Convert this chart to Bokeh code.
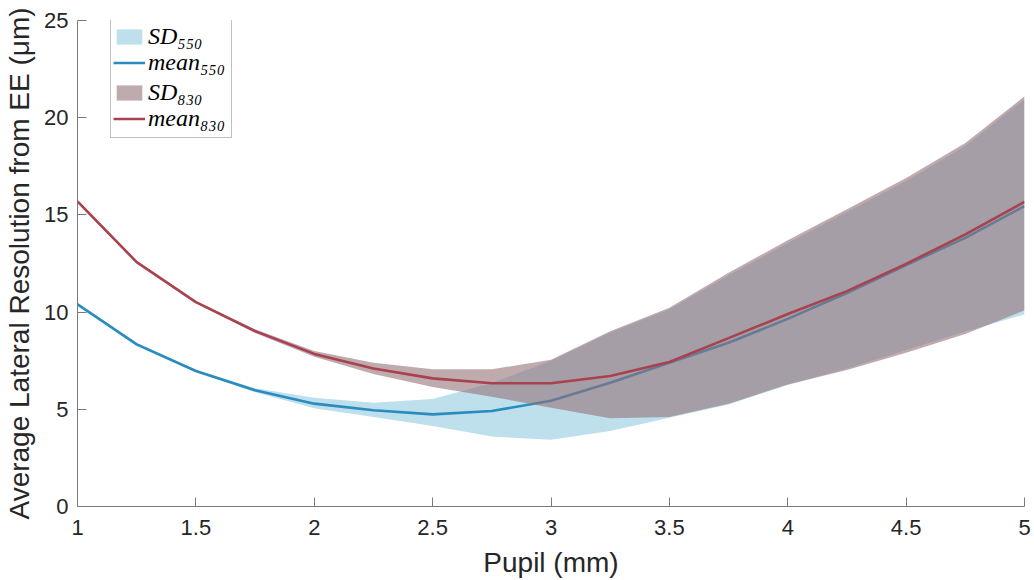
from bokeh.plotting import figure
from bokeh.models import Range1d, FixedTicker, NumeralTickFormatter, Legend, LegendItem
from bokeh.embed import file_html
from bokeh.resources import INLINE

# ---- data ----
pupil = [1.0, 1.25, 1.5, 1.75, 2.0, 2.25, 2.5, 2.75, 3.0, 3.25, 3.5, 3.75, 4.0, 4.25, 4.5, 4.75, 5.0]

mean_550 = [10.40, 8.34, 6.97, 5.98, 5.29, 4.95, 4.74, 4.91, 5.44, 6.37, 7.40, 8.42, 9.65, 10.98, 12.42, 13.82, 15.45]
sd_550_upper = [10.48, 8.42, 7.04, 6.08, 5.60, 5.34, 5.53, 6.35, 7.50, 8.95, 10.15, 11.90, 13.55, 15.15, 16.75, 18.55, 20.95]
sd_550_lower = [10.32, 8.26, 6.90, 5.88, 5.05, 4.60, 4.14, 3.60, 3.43, 3.88, 4.57, 5.25, 6.25, 7.10, 8.05, 9.00, 9.88]

mean_830 = [15.70, 12.57, 10.51, 9.02, 7.85, 7.10, 6.59, 6.34, 6.34, 6.71, 7.43, 8.66, 9.90, 11.08, 12.48, 14.00, 15.67]
sd_830_upper = [15.76, 12.63, 10.57, 9.12, 8.00, 7.39, 7.06, 7.06, 7.55, 9.02, 10.22, 12.02, 13.70, 15.29, 16.90, 18.70, 21.10]
sd_830_lower = [15.64, 12.51, 10.45, 8.92, 7.70, 6.81, 6.15, 5.65, 5.08, 4.54, 4.60, 5.29, 6.28, 7.02, 7.91, 8.87, 10.09]

x_ticks = [1, 1.5, 2, 2.5, 3, 3.5, 4, 4.5, 5]
y_ticks = [0, 5, 10, 15, 20, 25]

legend_labels = ["SD₅₅₀", "mean₅₅₀", "SD₈₃₀", "mean₈₃₀"]

# ---- styles ----
C_FILL_550 = "#bde0ec"
C_LINE_550 = "#2a8bbf"
C_FILL_830 = "#947178"
C_LINE_830 = "#a8424e"
AXIS_C = "#7a7a7a"
TEXT_C = "#262626"

FRAME_H = 486

p = figure(width=1034, height=580, output_backend="svg", toolbar_location=None,
           x_range=Range1d(1, 5), y_range=Range1d(0, 25),
           min_border_left=77, min_border_right=10, min_border_top=20, min_border_bottom=74)
p.outline_line_color = None
p.grid.visible = False
p.background_fill_color = "white"
p.border_fill_color = "white"

r_sd550 = p.varea(x=pupil, y1=sd_550_lower, y2=sd_550_upper, fill_color=C_FILL_550, fill_alpha=1.0)
r_m550 = p.line(x=pupil, y=mean_550, line_color=C_LINE_550, line_width=2.6)
r_sd830 = p.varea(x=pupil, y1=sd_830_lower, y2=sd_830_upper, fill_color=C_FILL_830, fill_alpha=0.6)
r_m830 = p.line(x=pupil, y=mean_830, line_color=C_LINE_830, line_width=2.6)
# invisible helper used only for the legend frame
r_blank = p.line(x=pupil, y=mean_830, line_alpha=0)

for ax, ticks in ((p.xaxis[0], x_ticks), (p.yaxis[0], y_ticks)):
    ax.ticker = FixedTicker(ticks=ticks)
    ax.formatter = NumeralTickFormatter(format="0.[0]")
    ax.axis_line_color = AXIS_C
    ax.axis_line_width = 1
    ax.major_tick_line_color = AXIS_C
    ax.major_tick_in = 9
    ax.major_tick_out = 0
    ax.minor_tick_line_color = None
    ax.major_label_text_font = "Liberation Sans"
    ax.major_label_text_font_size = "22px"
    ax.major_label_text_color = TEXT_C
    ax.axis_label_text_font = "Liberation Sans"
    ax.axis_label_text_font_size = "28px"
    ax.axis_label_text_font_style = "normal"
    ax.axis_label_text_color = TEXT_C

p.xaxis.axis_label = "Pupil (mm)"
p.xaxis.major_label_standoff = 13
p.xaxis.axis_label_standoff = 9
p.yaxis.axis_label = "Average Lateral Resolution from EE (μm)"
p.yaxis.major_label_standoff = 9
p.yaxis.axis_label_standoff = 6

# legend frame (box 120 x 118 px, top-left at frame offset (33, 0))
box = Legend(items=[LegendItem(label="\u00a0", renderers=[r_blank])],
             location=(33, FRAME_H - 118))
box.glyph_width = 114
box.glyph_height = 118
box.label_standoff = 0
box.label_width = 6
box.label_height = 118
box.label_text_font_size = "1px"
box.padding = 0
box.margin = 0
box.spacing = 0
box.border_line_color = "#7f7f7f"
box.border_line_width = 1
box.background_fill_color = "white"
box.background_fill_alpha = 1.0
p.add_layout(box, "center")

renderers = [r_sd550, r_m550, r_sd830, r_m830]
row_centers = [16.5, 42.5, 72.5, 98.5]   # px below frame top (line items render lower)
for lab, rend, c in zip(legend_labels, renderers, row_centers):
    lg = Legend(items=[LegendItem(label=lab, renderers=[rend])],
                location=(36, FRAME_H - c - 14))
    lg.label_text_font = "Liberation Serif"
    lg.label_text_font_style = "italic"
    lg.label_text_font_size = "24px"
    lg.label_text_color = "#000000"
    lg.glyph_width = 32
    lg.glyph_height = 19
    lg.label_standoff = 3
    lg.label_height = 28
    lg.padding = 0
    lg.margin = 0
    lg.spacing = 0
    lg.border_line_color = None
    lg.background_fill_alpha = 0.0
    p.add_layout(lg, "center")

open("out.html", "w").write(file_html(p, INLINE))
